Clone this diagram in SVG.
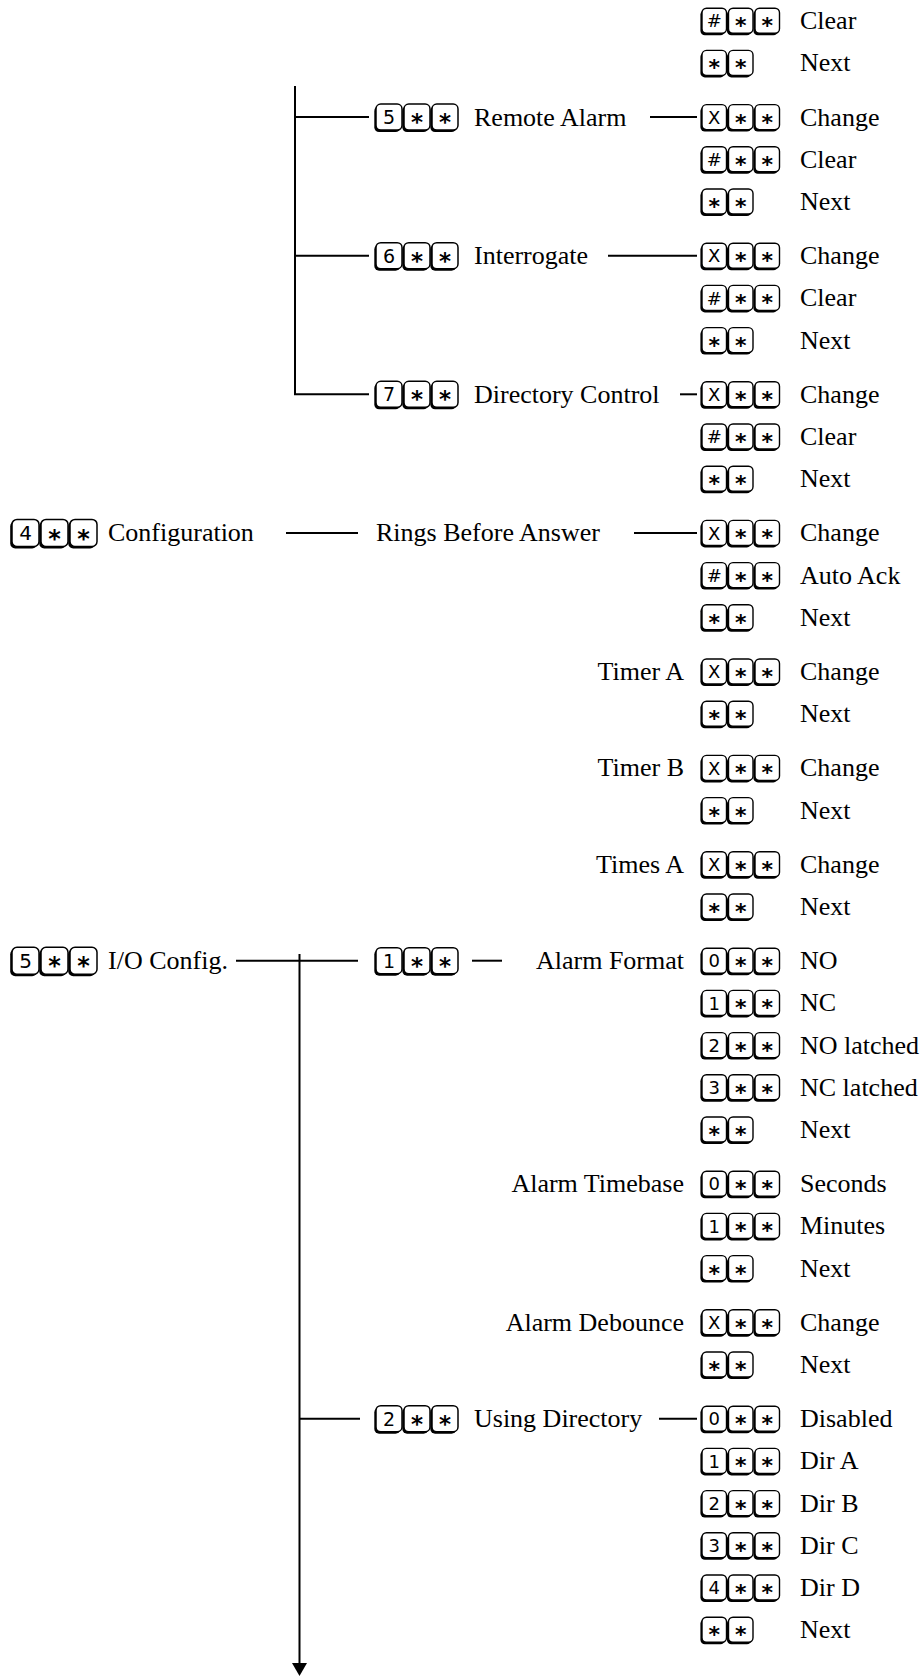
<svg xmlns="http://www.w3.org/2000/svg" width="921" height="1676" viewBox="0 0 921 1676">
<style>
.t{font-family:"Liberation Serif","Times New Roman",serif;font-size:26px;fill:#000}
.e{text-anchor:end}
.d{font-family:"DejaVu Sans","Liberation Sans",sans-serif;font-size:18px;text-anchor:middle;fill:#000}
.s{font-family:"DejaVu Sans","Liberation Sans",sans-serif;font-size:22px;font-weight:bold;text-anchor:middle;fill:#000}
.m .d{font-size:19px}
.m .s{font-size:23px}
.l .d{font-size:20px}
.l .s{font-size:24px}
.c line{stroke:#000;stroke-width:2;fill:none}
</style>
<defs>
<g id="kR">
<rect x="-1.6" y="-10.5" width="24.5" height="25" rx="4.5" fill="#000"/>
<rect x="0" y="-12.5" width="24.5" height="25" rx="4.5" fill="#fff" stroke="#000" stroke-width="1.4"/>
</g>
<g id="kM">
<rect x="-1.7" y="-11" width="26" height="26" rx="4.8" fill="#000"/>
<rect x="0" y="-13" width="26" height="26" rx="4.8" fill="#fff" stroke="#000" stroke-width="1.5"/>
</g>
<g id="kL">
<rect x="-1.8" y="-11.5" width="27" height="27" rx="5" fill="#000"/>
<rect x="0" y="-13.5" width="27" height="27" rx="5" fill="#fff" stroke="#000" stroke-width="1.5"/>
</g>
<marker id="ah" markerUnits="userSpaceOnUse" markerWidth="16" markerHeight="16" refX="0" refY="7.5" orient="auto">
<path d="M0,0 L13,7.5 L0,15 z" fill="#000"/>
</marker>
</defs>
<rect width="921" height="1676" fill="#fff"/>
<g class="c" id="connectors">
<line x1="295" y1="86" x2="295" y2="394.3"/>
<line x1="295" y1="117.1" x2="369" y2="117.1"/>
<line x1="295" y1="255.7" x2="369" y2="255.7"/>
<line x1="294" y1="394.3" x2="369" y2="394.3"/>
<line x1="650" y1="117.1" x2="697" y2="117.1"/>
<line x1="608" y1="255.7" x2="697" y2="255.7"/>
<line x1="680" y1="394.3" x2="697" y2="394.3"/>
<line x1="286" y1="532.9" x2="358" y2="532.9"/>
<line x1="634" y1="532.9" x2="697" y2="532.9"/>
<line x1="236" y1="960.7" x2="358" y2="960.7"/>
<line x1="472" y1="960.7" x2="502" y2="960.7"/>
<line x1="299" y1="1418.7" x2="360" y2="1418.7"/>
<line x1="659" y1="1418.7" x2="697" y2="1418.7"/>
<line x1="299.5" y1="954" x2="299.5" y2="1663" marker-end="url(#ah)"/>
</g>
<g id="row-0" transform="translate(0,20.7)"><use href="#kR" x="702"/><text class="d" x="714.25" y="6.6">#</text><use href="#kR" x="728.5"/><text class="s" x="740.75" y="12.5">*</text><use href="#kR" x="755"/><text class="s" x="767.25" y="12.5">*</text><text class="t" x="800" y="8.5">Clear</text></g>
<g id="row-1" transform="translate(0,62.9)"><use href="#kR" x="702"/><text class="s" x="714.25" y="12.5">*</text><use href="#kR" x="728.5"/><text class="s" x="740.75" y="12.5">*</text><text class="t" x="800" y="8.5">Next</text></g>
<g id="remote-alarm" class="m" transform="translate(0,117.1)"><use href="#kM" x="376"/><text class="d" x="389" y="6.9">5</text><use href="#kM" x="404"/><text class="s" x="417" y="13">*</text><use href="#kM" x="432"/><text class="s" x="445" y="13">*</text><text class="t" x="474" y="8.5">Remote Alarm</text></g>
<g id="row-2" transform="translate(0,117.1)"><use href="#kR" x="702"/><text class="d" x="714.25" y="6.6">X</text><use href="#kR" x="728.5"/><text class="s" x="740.75" y="12.5">*</text><use href="#kR" x="755"/><text class="s" x="767.25" y="12.5">*</text><text class="t" x="800" y="8.5">Change</text></g>
<g id="row-3" transform="translate(0,159.3)"><use href="#kR" x="702"/><text class="d" x="714.25" y="6.6">#</text><use href="#kR" x="728.5"/><text class="s" x="740.75" y="12.5">*</text><use href="#kR" x="755"/><text class="s" x="767.25" y="12.5">*</text><text class="t" x="800" y="8.5">Clear</text></g>
<g id="row-4" transform="translate(0,201.5)"><use href="#kR" x="702"/><text class="s" x="714.25" y="12.5">*</text><use href="#kR" x="728.5"/><text class="s" x="740.75" y="12.5">*</text><text class="t" x="800" y="8.5">Next</text></g>
<g id="interrogate" class="m" transform="translate(0,255.7)"><use href="#kM" x="376"/><text class="d" x="389" y="6.9">6</text><use href="#kM" x="404"/><text class="s" x="417" y="13">*</text><use href="#kM" x="432"/><text class="s" x="445" y="13">*</text><text class="t" x="474" y="8.5">Interrogate</text></g>
<g id="row-5" transform="translate(0,255.7)"><use href="#kR" x="702"/><text class="d" x="714.25" y="6.6">X</text><use href="#kR" x="728.5"/><text class="s" x="740.75" y="12.5">*</text><use href="#kR" x="755"/><text class="s" x="767.25" y="12.5">*</text><text class="t" x="800" y="8.5">Change</text></g>
<g id="row-6" transform="translate(0,297.9)"><use href="#kR" x="702"/><text class="d" x="714.25" y="6.6">#</text><use href="#kR" x="728.5"/><text class="s" x="740.75" y="12.5">*</text><use href="#kR" x="755"/><text class="s" x="767.25" y="12.5">*</text><text class="t" x="800" y="8.5">Clear</text></g>
<g id="row-7" transform="translate(0,340.1)"><use href="#kR" x="702"/><text class="s" x="714.25" y="12.5">*</text><use href="#kR" x="728.5"/><text class="s" x="740.75" y="12.5">*</text><text class="t" x="800" y="8.5">Next</text></g>
<g id="directory-control" class="m" transform="translate(0,394.3)"><use href="#kM" x="376"/><text class="d" x="389" y="6.9">7</text><use href="#kM" x="404"/><text class="s" x="417" y="13">*</text><use href="#kM" x="432"/><text class="s" x="445" y="13">*</text><text class="t" x="474" y="8.5">Directory Control</text></g>
<g id="row-8" transform="translate(0,394.3)"><use href="#kR" x="702"/><text class="d" x="714.25" y="6.6">X</text><use href="#kR" x="728.5"/><text class="s" x="740.75" y="12.5">*</text><use href="#kR" x="755"/><text class="s" x="767.25" y="12.5">*</text><text class="t" x="800" y="8.5">Change</text></g>
<g id="row-9" transform="translate(0,436.5)"><use href="#kR" x="702"/><text class="d" x="714.25" y="6.6">#</text><use href="#kR" x="728.5"/><text class="s" x="740.75" y="12.5">*</text><use href="#kR" x="755"/><text class="s" x="767.25" y="12.5">*</text><text class="t" x="800" y="8.5">Clear</text></g>
<g id="row-10" transform="translate(0,478.7)"><use href="#kR" x="702"/><text class="s" x="714.25" y="12.5">*</text><use href="#kR" x="728.5"/><text class="s" x="740.75" y="12.5">*</text><text class="t" x="800" y="8.5">Next</text></g>
<g id="configuration" class="l" transform="translate(0,532.9)"><use href="#kL" x="12"/><text class="d" x="25.5" y="7.3">4</text><use href="#kL" x="41"/><text class="s" x="54.5" y="13.6">*</text><use href="#kL" x="70"/><text class="s" x="83.5" y="13.6">*</text><text class="t" x="108" y="8.5">Configuration</text></g>
<g id="rings-before-answer" transform="translate(0,532.9)"><text class="t" x="376" y="8.5">Rings Before Answer</text></g>
<g id="row-11" transform="translate(0,532.9)"><use href="#kR" x="702"/><text class="d" x="714.25" y="6.6">X</text><use href="#kR" x="728.5"/><text class="s" x="740.75" y="12.5">*</text><use href="#kR" x="755"/><text class="s" x="767.25" y="12.5">*</text><text class="t" x="800" y="8.5">Change</text></g>
<g id="row-12" transform="translate(0,575.1)"><use href="#kR" x="702"/><text class="d" x="714.25" y="6.6">#</text><use href="#kR" x="728.5"/><text class="s" x="740.75" y="12.5">*</text><use href="#kR" x="755"/><text class="s" x="767.25" y="12.5">*</text><text class="t" x="800" y="8.5">Auto Ack</text></g>
<g id="row-13" transform="translate(0,617.3)"><use href="#kR" x="702"/><text class="s" x="714.25" y="12.5">*</text><use href="#kR" x="728.5"/><text class="s" x="740.75" y="12.5">*</text><text class="t" x="800" y="8.5">Next</text></g>
<g id="timer-a" transform="translate(0,671.5)"><text class="t e" x="684" y="8.5">Timer A</text><use href="#kR" x="702"/><text class="d" x="714.25" y="6.6">X</text><use href="#kR" x="728.5"/><text class="s" x="740.75" y="12.5">*</text><use href="#kR" x="755"/><text class="s" x="767.25" y="12.5">*</text><text class="t" x="800" y="8.5">Change</text></g>
<g id="row-15" transform="translate(0,713.7)"><use href="#kR" x="702"/><text class="s" x="714.25" y="12.5">*</text><use href="#kR" x="728.5"/><text class="s" x="740.75" y="12.5">*</text><text class="t" x="800" y="8.5">Next</text></g>
<g id="timer-b" transform="translate(0,767.9)"><text class="t e" x="684" y="8.5">Timer B</text><use href="#kR" x="702"/><text class="d" x="714.25" y="6.6">X</text><use href="#kR" x="728.5"/><text class="s" x="740.75" y="12.5">*</text><use href="#kR" x="755"/><text class="s" x="767.25" y="12.5">*</text><text class="t" x="800" y="8.5">Change</text></g>
<g id="row-17" transform="translate(0,810.1)"><use href="#kR" x="702"/><text class="s" x="714.25" y="12.5">*</text><use href="#kR" x="728.5"/><text class="s" x="740.75" y="12.5">*</text><text class="t" x="800" y="8.5">Next</text></g>
<g id="times-a" transform="translate(0,864.3)"><text class="t e" x="684" y="8.5">Times A</text><use href="#kR" x="702"/><text class="d" x="714.25" y="6.6">X</text><use href="#kR" x="728.5"/><text class="s" x="740.75" y="12.5">*</text><use href="#kR" x="755"/><text class="s" x="767.25" y="12.5">*</text><text class="t" x="800" y="8.5">Change</text></g>
<g id="row-19" transform="translate(0,906.5)"><use href="#kR" x="702"/><text class="s" x="714.25" y="12.5">*</text><use href="#kR" x="728.5"/><text class="s" x="740.75" y="12.5">*</text><text class="t" x="800" y="8.5">Next</text></g>
<g id="io-config" class="l" transform="translate(0,960.7)"><use href="#kL" x="12"/><text class="d" x="25.5" y="7.3">5</text><use href="#kL" x="41"/><text class="s" x="54.5" y="13.6">*</text><use href="#kL" x="70"/><text class="s" x="83.5" y="13.6">*</text><text class="t" x="108" y="8.5">I/O Config.</text></g>
<g id="io-1" class="m" transform="translate(0,960.7)"><use href="#kM" x="376"/><text class="d" x="389" y="6.9">1</text><use href="#kM" x="404"/><text class="s" x="417" y="13">*</text><use href="#kM" x="432"/><text class="s" x="445" y="13">*</text></g>
<g id="alarm-format" transform="translate(0,960.7)"><text class="t e" x="684" y="8.5">Alarm Format</text><use href="#kR" x="702"/><text class="d" x="714.25" y="6.6">0</text><use href="#kR" x="728.5"/><text class="s" x="740.75" y="12.5">*</text><use href="#kR" x="755"/><text class="s" x="767.25" y="12.5">*</text><text class="t" x="800" y="8.5">NO</text></g>
<g id="row-21" transform="translate(0,1002.9)"><use href="#kR" x="702"/><text class="d" x="714.25" y="6.6">1</text><use href="#kR" x="728.5"/><text class="s" x="740.75" y="12.5">*</text><use href="#kR" x="755"/><text class="s" x="767.25" y="12.5">*</text><text class="t" x="800" y="8.5">NC</text></g>
<g id="row-22" transform="translate(0,1045.1)"><use href="#kR" x="702"/><text class="d" x="714.25" y="6.6">2</text><use href="#kR" x="728.5"/><text class="s" x="740.75" y="12.5">*</text><use href="#kR" x="755"/><text class="s" x="767.25" y="12.5">*</text><text class="t" x="800" y="8.5">NO latched</text></g>
<g id="row-23" transform="translate(0,1087.3)"><use href="#kR" x="702"/><text class="d" x="714.25" y="6.6">3</text><use href="#kR" x="728.5"/><text class="s" x="740.75" y="12.5">*</text><use href="#kR" x="755"/><text class="s" x="767.25" y="12.5">*</text><text class="t" x="800" y="8.5">NC latched</text></g>
<g id="row-24" transform="translate(0,1129.5)"><use href="#kR" x="702"/><text class="s" x="714.25" y="12.5">*</text><use href="#kR" x="728.5"/><text class="s" x="740.75" y="12.5">*</text><text class="t" x="800" y="8.5">Next</text></g>
<g id="alarm-timebase" transform="translate(0,1183.7)"><text class="t e" x="684" y="8.5">Alarm Timebase</text><use href="#kR" x="702"/><text class="d" x="714.25" y="6.6">0</text><use href="#kR" x="728.5"/><text class="s" x="740.75" y="12.5">*</text><use href="#kR" x="755"/><text class="s" x="767.25" y="12.5">*</text><text class="t" x="800" y="8.5">Seconds</text></g>
<g id="row-26" transform="translate(0,1225.9)"><use href="#kR" x="702"/><text class="d" x="714.25" y="6.6">1</text><use href="#kR" x="728.5"/><text class="s" x="740.75" y="12.5">*</text><use href="#kR" x="755"/><text class="s" x="767.25" y="12.5">*</text><text class="t" x="800" y="8.5">Minutes</text></g>
<g id="row-27" transform="translate(0,1268.1)"><use href="#kR" x="702"/><text class="s" x="714.25" y="12.5">*</text><use href="#kR" x="728.5"/><text class="s" x="740.75" y="12.5">*</text><text class="t" x="800" y="8.5">Next</text></g>
<g id="alarm-debounce" transform="translate(0,1322.3)"><text class="t e" x="684" y="8.5">Alarm Debounce</text><use href="#kR" x="702"/><text class="d" x="714.25" y="6.6">X</text><use href="#kR" x="728.5"/><text class="s" x="740.75" y="12.5">*</text><use href="#kR" x="755"/><text class="s" x="767.25" y="12.5">*</text><text class="t" x="800" y="8.5">Change</text></g>
<g id="row-29" transform="translate(0,1364.5)"><use href="#kR" x="702"/><text class="s" x="714.25" y="12.5">*</text><use href="#kR" x="728.5"/><text class="s" x="740.75" y="12.5">*</text><text class="t" x="800" y="8.5">Next</text></g>
<g id="using-directory" class="m" transform="translate(0,1418.7)"><use href="#kM" x="376"/><text class="d" x="389" y="6.9">2</text><use href="#kM" x="404"/><text class="s" x="417" y="13">*</text><use href="#kM" x="432"/><text class="s" x="445" y="13">*</text><text class="t" x="474" y="8.5">Using Directory</text></g>
<g id="row-30" transform="translate(0,1418.7)"><use href="#kR" x="702"/><text class="d" x="714.25" y="6.6">0</text><use href="#kR" x="728.5"/><text class="s" x="740.75" y="12.5">*</text><use href="#kR" x="755"/><text class="s" x="767.25" y="12.5">*</text><text class="t" x="800" y="8.5">Disabled</text></g>
<g id="row-31" transform="translate(0,1460.9)"><use href="#kR" x="702"/><text class="d" x="714.25" y="6.6">1</text><use href="#kR" x="728.5"/><text class="s" x="740.75" y="12.5">*</text><use href="#kR" x="755"/><text class="s" x="767.25" y="12.5">*</text><text class="t" x="800" y="8.5">Dir A</text></g>
<g id="row-32" transform="translate(0,1503.1)"><use href="#kR" x="702"/><text class="d" x="714.25" y="6.6">2</text><use href="#kR" x="728.5"/><text class="s" x="740.75" y="12.5">*</text><use href="#kR" x="755"/><text class="s" x="767.25" y="12.5">*</text><text class="t" x="800" y="8.5">Dir B</text></g>
<g id="row-33" transform="translate(0,1545.3)"><use href="#kR" x="702"/><text class="d" x="714.25" y="6.6">3</text><use href="#kR" x="728.5"/><text class="s" x="740.75" y="12.5">*</text><use href="#kR" x="755"/><text class="s" x="767.25" y="12.5">*</text><text class="t" x="800" y="8.5">Dir C</text></g>
<g id="row-34" transform="translate(0,1587.5)"><use href="#kR" x="702"/><text class="d" x="714.25" y="6.6">4</text><use href="#kR" x="728.5"/><text class="s" x="740.75" y="12.5">*</text><use href="#kR" x="755"/><text class="s" x="767.25" y="12.5">*</text><text class="t" x="800" y="8.5">Dir D</text></g>
<g id="row-35" transform="translate(0,1629.7)"><use href="#kR" x="702"/><text class="s" x="714.25" y="12.5">*</text><use href="#kR" x="728.5"/><text class="s" x="740.75" y="12.5">*</text><text class="t" x="800" y="8.5">Next</text></g>
</svg>
